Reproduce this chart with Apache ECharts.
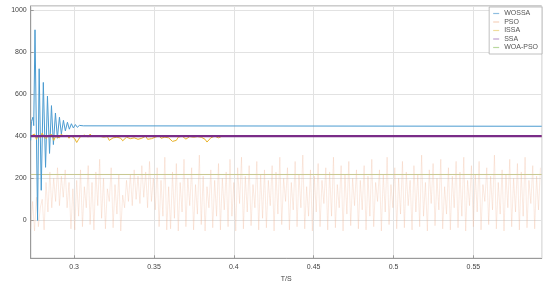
<!DOCTYPE html>
<html>
<head>
<meta charset="utf-8">
<script src="https://cdn.jsdelivr.net/npm/echarts@6/dist/echarts.min.js"></script>
<style>html,body{margin:0;padding:0;background:#fff}#c{width:550px;height:282px}</style>
</head>
<body>
<div id="c"></div>
<script>
// ---- data ----
var seriesNames = ['WOSSA', 'PSO', 'ISSA', 'SSA', 'WOA-PSO'];
var tStart = 0.2728, tEnd = 0.5928;

// WOSSA: damped oscillation then settles
var wossaTimes = [0.2728,0.2733,0.2742,0.2747,0.2755,0.2771,0.2781,0.2794,0.2807,0.2821,0.2833,0.2846,0.2858,0.2870,0.2883,0.2895,0.2908,0.2920,0.2933,0.2945,0.2958,0.2970,0.2983,0.2995,0.3008,0.3020,0.3033,0.3045,0.3058,0.3070,0.5928];
var wossaValues = [380,470,490,450,905,0,720,143,655,252,590,318,545,360,510,390,490,410,475,425,466,433,459,439,455,442,451,445,449,447,447];

// PSO: sampled every psoStep from tStart
var psoStep = 0.0012;
var psoValues = [
-40,90,-50,110,-30,60,100,-45,180,40,230,60,200,90,250,70,210,110,240,60,180,-40,150,
-45,190,20,240,-30,160,60,260,-20,180,-45,230,70,290,10,200,-40,150,90,250,-35,170,30,220,-50,
120,60,190,90,220,70,240,100,210,80,260,110,230,60,280,90,200,50,250,-30,190,20,300,-45,160,
-40,230,10,270,-50,180,40,290,-30,200,70,250,-45,170,30,310,-20,210,-50,160,60,240,-35,190,20,
270,-45,200,50,230,-30,290,20,180,-50,250,80,300,-40,210,40,260,-25,170,60,280,-45,220,10,240,
-35,190,70,260,-50,230,30,300,-20,200,90,250,-45,180,50,280,-30,220,60,310,-40,160,20,240,-50,
210,40,270,-30,190,80,250,-45,230,20,300,-35,170,60,260,-50,220,30,280,-25,200,70,240,-40,190,
50,260,-45,210,20,290,-30,180,90,240,-50,220,40,300,-20,170,60,250,-40,200,30,280,-35,230,70,
190,-45,260,40,220,-30,310,20,180,-50,240,80,270,-25,200,50,290,-40,160,30,250,-45,210,60,280,
-35,230,20,300,-50,190,70,260,-30,220,40,280,-45,170,90,250,-20,210,50,310,-40,180,30,240,-50,
220,60,290,-30,200,40,270,-45,230,20,300,-35,190,80,260,-40,210,50,250
];

// ISSA: noisy around 400 then flat
var issaStep = 0.0012;
var issaValues = [
400,395,410,385,405,392,415,398,388,402,395,408,380,398,405,392,410,400,396,404,390,402,395,
388,370,385,398,
402,405,398,396,410,400,395,398,392,400,406,395,388,398,380,375,392,385,395,398,390,378,385,395,402,388,
380,392,398,385,378,390,395,400,385,392,388,380,395,398,402,390,385,395,398,392,385,375,368,380,395,398,
400,392,386,395,398,402,395,390,398,400,395,392,385,372,378,392,398,400,396,392,398,400,400,400
];
var issaTail = 400;

var ssaValues = [400, 400];
var woaPsoValues = [218, 218];

// ---- build ----
function pairs(times, vals){ var o=[]; for(var i=0;i<vals.length;i++) o.push([times[i], vals[i]]); return o; }
function stepped(start, step, vals){ var o=[]; for(var i=0;i<vals.length;i++) o.push([start+i*step, vals[i]]); return o; }

var issaData = stepped(tStart, issaStep, issaValues);
issaData.push([tEnd, issaTail]);

var chart = echarts.init(document.getElementById('c'), null, {renderer:'canvas'});
var labelStyle = {fontSize:7, color:'#444', fontFamily:'Liberation Sans, Arial, sans-serif'};
chart.setOption({
  animation:false,
  backgroundColor:'#fff',
  grid:{left:30.7, right:8.3, top:6, bottom:23.7, outerBoundsMode:'none', containLabel:false,
        show:true, borderColor:'#9a9a9a', borderWidth:1, backgroundColor:'transparent'},
  xAxis:{
    type:'value', min:tStart, max:tEnd, splitNumber:5,
    name:'T/S', nameLocation:'middle', nameGap:12,
    nameTextStyle:{fontSize:7, color:'#444', fontFamily:'Liberation Sans, Arial, sans-serif'},
    axisLine:{onZero:false, lineStyle:{color:'#9a9a9a', width:1}},
    axisTick:{inside:true, length:3, lineStyle:{color:'#9a9a9a'}},
    axisLabel:Object.assign({showMinLabel:false, showMaxLabel:false, margin:5}, labelStyle),
    splitLine:{show:true, lineStyle:{color:'#e2e2e2', width:1}}
  },
  yAxis:{
    type:'value', min:-180, max:1018, splitNumber:5,
    name:'P/W', nameLocation:'middle', nameGap:23, nameRotate:90,
    nameTextStyle:{fontSize:7, color:'#444', fontFamily:'Liberation Sans, Arial, sans-serif'},
    axisLine:{show:true, onZero:false, lineStyle:{color:'#9a9a9a', width:1}},
    axisTick:{show:true, inside:true, length:3, lineStyle:{color:'#9a9a9a'}},
    axisLabel:Object.assign({showMinLabel:false, showMaxLabel:false, margin:4, formatter:function(v){return String(v);}}, labelStyle),
    splitLine:{show:true, lineStyle:{color:'#e2e2e2', width:1}}
  },
  legend:{
    data:seriesNames, orient:'vertical', right:8, top:7,
    itemWidth:6, itemHeight:1.2, itemGap:1.5,
    padding:[3,4,3,4],
    backgroundColor:'#fff', borderColor:'#b0b0b0', borderWidth:0.8, borderRadius:0,
    textStyle:{fontSize:7, color:'#555', lineHeight:6, padding:[0,0,0,0], fontFamily:'Liberation Sans, Arial, sans-serif'},
    icon:'rect'
  },
  series:[
    {name:'PSO', type:'line', data:stepped(tStart, psoStep, psoValues), showSymbol:false, symbol:'none',
     lineStyle:{color:'#f0b190', width:0.8, opacity:0.35}, itemStyle:{color:'#f6d2bd'}, z:1},
    {name:'WOA-PSO', type:'line', data:[[tStart, woaPsoValues[0]],[tEnd, woaPsoValues[1]]], symbol:'none',
     lineStyle:{color:'#c8c890', width:1}, itemStyle:{color:'#b9d89e'}, z:2},
    {name:'WOSSA', type:'line', data:pairs(wossaTimes, wossaValues), symbol:'none',
     lineStyle:{color:'#4b9bd0', width:1}, itemStyle:{color:'#8dbde0'}, z:3},
    {name:'ISSA', type:'line', data:issaData, symbol:'none',
     lineStyle:{color:'#e8b22a', width:1}, itemStyle:{color:'#efdc9c'}, z:4},
    {name:'SSA', type:'line', data:[[tStart, ssaValues[0]],[tEnd, ssaValues[1]]], symbol:'none',
     lineStyle:{color:'#7a2c88', width:2.2}, itemStyle:{color:'#c0a0d0'}, z:5}
  ]
});
</script>
</body>
</html>
